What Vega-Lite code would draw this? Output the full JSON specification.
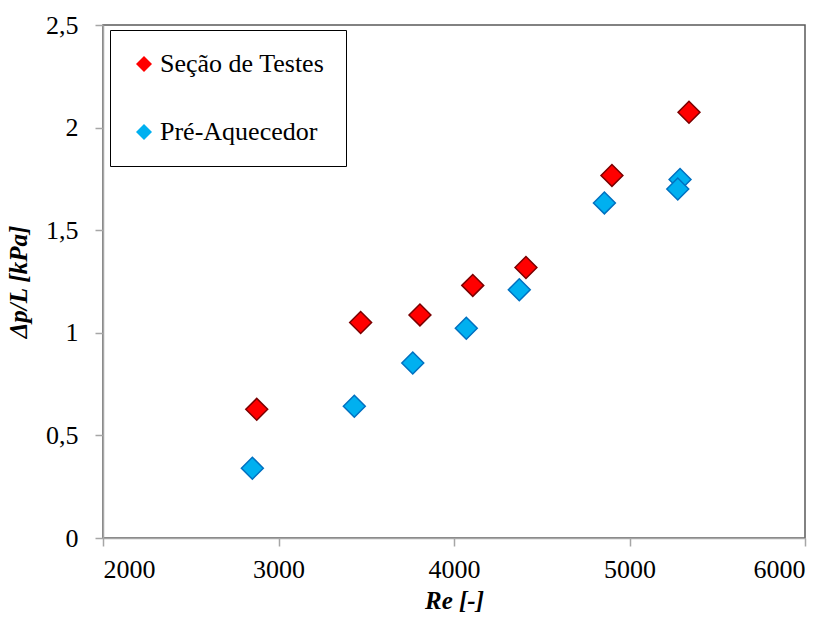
{
  "$schema": "https://vega.github.io/schema/vega-lite/v6.json",
  "width": 702,
  "height": 513,
  "autosize": {"type": "none"},
  "padding": {"left": 103, "top": 25, "right": 32, "bottom": 83},
  "background": "white",
  "config": {
    "font": "Liberation Serif",
    "view": {"stroke": "#595959", "strokeWidth": 1.5},
    "axis": {
      "grid": false,
      "domainColor": "#a6a6a6",
      "domainWidth": 1.5,
      "tickColor": "#a6a6a6",
      "tickWidth": 1.5,
      "tickSize": 8
    }
  },
  "data": {
    "values": [
      {"serie": "Seção de Testes", "Re": 2876, "dpL": 0.627},
      {"serie": "Seção de Testes", "Re": 3468, "dpL": 1.050},
      {"serie": "Seção de Testes", "Re": 3806, "dpL": 1.087},
      {"serie": "Seção de Testes", "Re": 4107, "dpL": 1.231},
      {"serie": "Seção de Testes", "Re": 4410, "dpL": 1.318},
      {"serie": "Seção de Testes", "Re": 4900, "dpL": 1.767},
      {"serie": "Seção de Testes", "Re": 5339, "dpL": 2.075},
      {"serie": "Pré-Aquecedor", "Re": 2851, "dpL": 0.340},
      {"serie": "Pré-Aquecedor", "Re": 3432, "dpL": 0.642},
      {"serie": "Pré-Aquecedor", "Re": 3765, "dpL": 0.853},
      {"serie": "Pré-Aquecedor", "Re": 4070, "dpL": 1.022},
      {"serie": "Pré-Aquecedor", "Re": 4372, "dpL": 1.210},
      {"serie": "Pré-Aquecedor", "Re": 4857, "dpL": 1.633},
      {"serie": "Pré-Aquecedor", "Re": 5288, "dpL": 1.747},
      {"serie": "Pré-Aquecedor", "Re": 5275, "dpL": 1.701}
    ]
  },
  "mark": {"type": "point", "shape": "diamond", "filled": true, "size": 480, "strokeWidth": 1.5, "opacity": 1},
  "encoding": {
    "x": {
      "field": "Re",
      "type": "quantitative",
      "scale": {"domain": [2000, 6000], "nice": false, "zero": false},
      "axis": {
        "values": [2000, 3000, 4000, 5000, 6000],
        "format": "d",
        "labelFont": "Liberation Serif",
        "labelFontSize": 26,
        "labelColor": "#000000",
        "labelPadding": 10,
        "title": "Re [-]",
        "titleFont": "Liberation Serif",
        "titleFontSize": 25,
        "titleFontWeight": "bold",
        "titleFontStyle": "italic",
        "titleColor": "#000000",
        "titlePadding": 6
      }
    },
    "y": {
      "field": "dpL",
      "type": "quantitative",
      "scale": {"domain": [0, 2.5], "nice": false},
      "axis": {
        "values": [0, 0.5, 1, 1.5, 2, 2.5],
        "labelExpr": "replace(toString(datum.value), '.', ',')",
        "labelFont": "Liberation Serif",
        "labelFontSize": 26,
        "labelColor": "#000000",
        "labelPadding": 17,
        "title": "Δp/L [kPa]",
        "titleFont": "Liberation Serif",
        "titleFontSize": 25,
        "titleFontWeight": "bold",
        "titleFontStyle": "italic",
        "titleColor": "#000000",
        "titlePadding": 14
      }
    },
    "fill": {
      "field": "serie",
      "type": "nominal",
      "scale": {"domain": ["Seção de Testes", "Pré-Aquecedor"], "range": ["#ff0000", "#00b0f0"]},
      "legend": {
        "title": null,
        "orient": "none",
        "legendX": 7,
        "legendY": 5,
        "fillColor": "white",
        "strokeColor": "#000000",
        "padding": 21,
        "rowPadding": 42,
        "symbolType": "diamond",
        "symbolSize": 256,
        "symbolStrokeWidth": 0,
        "symbolOpacity": 1,
        "labelFont": "Liberation Serif",
        "labelFontSize": 26,
        "labelLimit": 400,
        "labelColor": "#000000",
        "labelOffset": 3,
        "encode": {"legend": {"update": {"strokeWidth": {"value": 1}}}}
      }
    },
    "stroke": {
      "field": "serie",
      "type": "nominal",
      "scale": {"domain": ["Seção de Testes", "Pré-Aquecedor"], "range": ["#7a0000", "#0070c0"]},
      "legend": null
    }
  }
}
